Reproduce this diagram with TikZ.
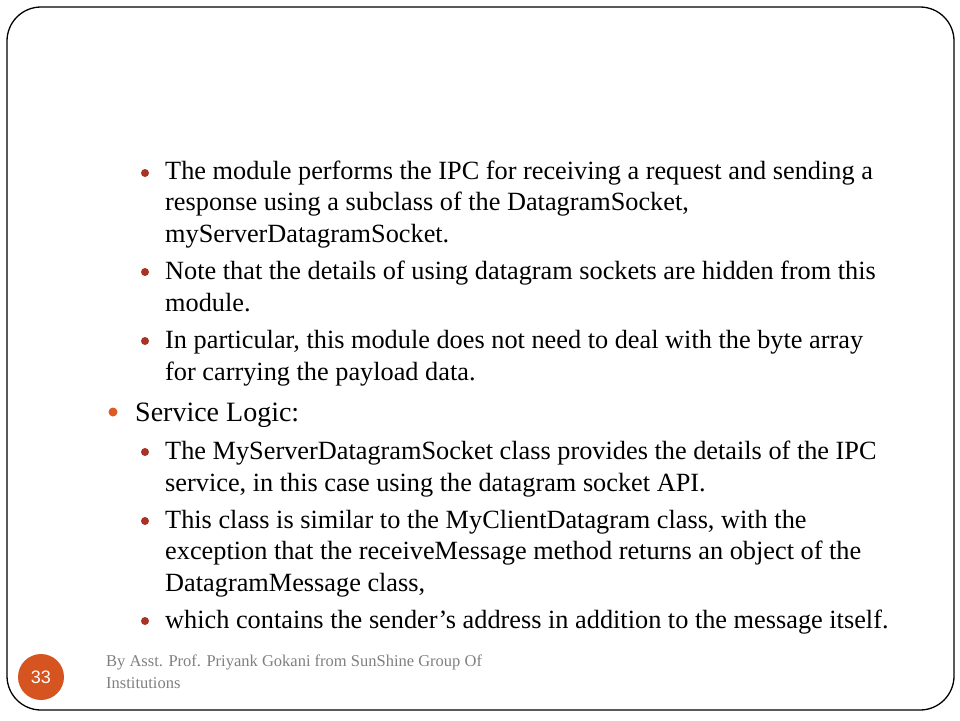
\documentclass[tikz,border=0pt]{standalone}
\usepackage{fontspec}
\setmainfont{Liberation Serif}
\newfontfamily\numfont{Liberation Sans}
\definecolor{bulA}{HTML}{DD5A24}
\definecolor{bulB}{HTML}{A83224}
\definecolor{foot}{HTML}{808080}
\definecolor{pgnum}{HTML}{D6541F}
\tikzset{
  lineB/.style={anchor=base west, inner sep=0pt, font=\fontsize{26.3}{26.3}\selectfont, text=black},
  lineA/.style={anchor=base west, inner sep=0pt, font=\fontsize{28}{28}\selectfont, text=black},
  dotA/.style={circle, fill=bulA, inner sep=0pt, minimum size=9pt},
  dotB/.style={circle, fill=bulB, inner sep=0pt, minimum size=8pt},
  foottext/.style={anchor=base west, inner sep=0pt, font=\fontsize{16.5}{16.5}\selectfont, text=foot},
}
\begin{document}
\begin{tikzpicture}[x=1pt,y=-1pt]
\useasboundingbox (0,0) rectangle (960,720);
\fill[white] (0,0) rectangle (960,720);
\draw[line width=1.3pt, rounded corners=34pt] (7,7) rectangle (954,710);
% level 2 bullets block 1
\node[dotB] (b1) at (145,173) {};
\node[lineB] (t1a) at (165,179) {The module performs the IPC for receiving a request and sending a};
\node[lineB] (t1b) at (165,210.5) {response using a subclass of the DatagramSocket,};
\node[lineB] (t1c) at (165,242) {myServerDatagramSocket.};
\node[dotB] (b2) at (145,272) {};
\node[lineB] (t2a) at (165,279) {Note that the details of using datagram sockets are hidden from this};
\node[lineB] (t2b) at (165,311) {module.};
\node[dotB] (b3) at (145,341) {};
\node[lineB] (t3a) at (165,348) {In particular, this module does not need to deal with the byte array};
\node[lineB] (t3b) at (165,380) {for carrying the payload data.};
% level 1
\node[dotA] (b4) at (113,412) {};
\node[lineA] (t4) at (135,421) {Service Logic:};
% level 2 block 2
\node[dotB] (b5) at (145,452) {};
\node[lineB] (t5a) at (165,459) {The MyServerDatagramSocket class provides the details of the IPC};
\node[lineB] (t5b) at (165,491) {service, in this case using the datagram socket API.};
\node[dotB] (b6) at (145,521) {};
\node[lineB] (t6a) at (165,528) {This class is similar to the MyClientDatagram class, with the};
\node[lineB] (t6b) at (165,559.5) {exception that the receiveMessage method returns an object of the};
\node[lineB] (t6c) at (165,591) {DatagramMessage class,};
\node[dotB] (b7) at (145,621) {};
\node[lineB] (t7a) at (165,628) {which contains the sender’s address in addition to the message itself.};
% footer
\node[circle, fill=pgnum, minimum size=46pt, inner sep=0pt, text=white, font=\numfont\fontsize{18}{18}\selectfont] (pg) at (41,677) {33};
\node[foottext] (f1) at (106,666) {By Asst. Prof. Priyank Gokani from SunShine Group Of};
\node[foottext] (f2) at (106,688) {Institutions};
\end{tikzpicture}
\end{document}
